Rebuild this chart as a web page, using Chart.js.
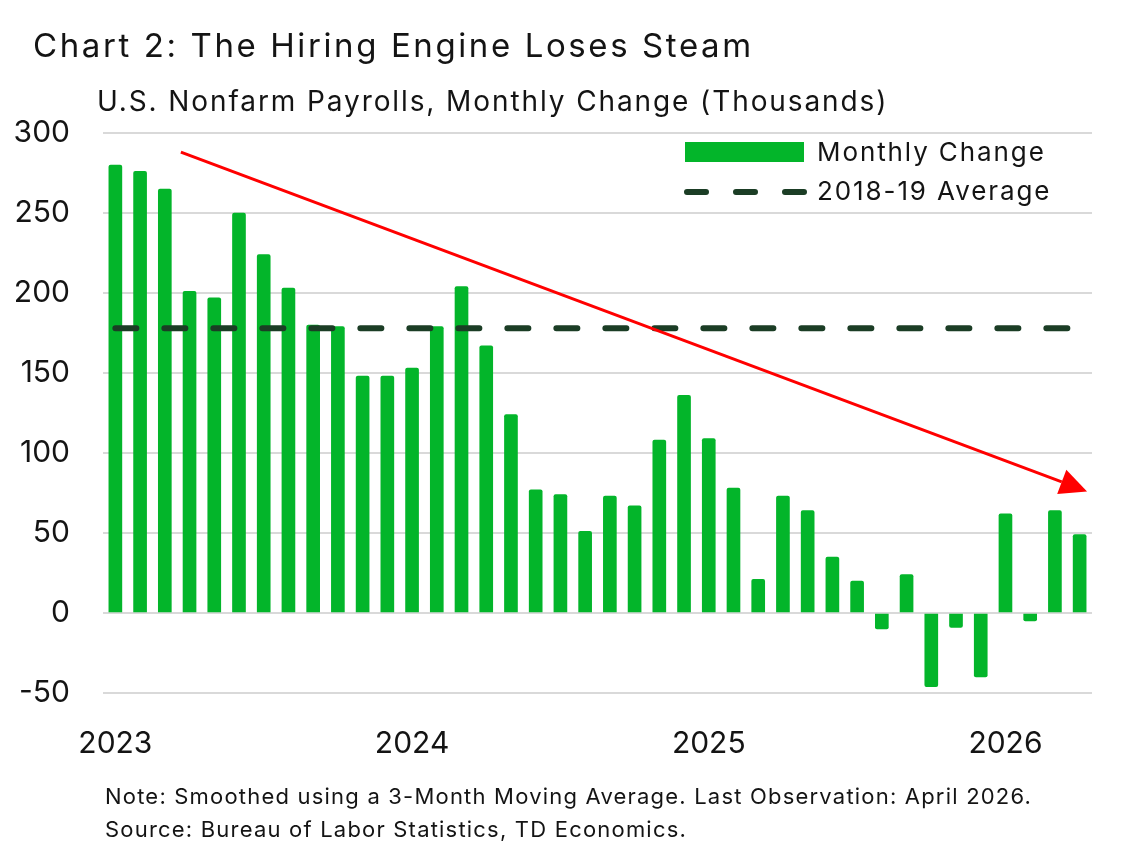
<!DOCTYPE html>
<html>
<head>
<meta charset="utf-8">
<script src="https://cdn.jsdelivr.net/npm/chart.js@4.4.1/dist/chart.umd.min.js"></script>
<style>
  html, body { margin: 0; padding: 0; background: #fff; }
  .wrap { position: relative; width: 1137px; height: 848px; font-family: Inter, sans-serif; color: #141414; }
  canvas { position: absolute; left: 0; top: 0; }
  .title { position: absolute; left: 33px; top: 25px; font-size: 33px; line-height: 40px; letter-spacing: 2.6px; white-space: nowrap; }
  .subtitle { position: absolute; left: 97px; top: 84px; font-size: 28px; line-height: 34px; letter-spacing: 1.9px; white-space: nowrap; }
  .note { position: absolute; left: 105px; top: 780px; font-size: 22px; line-height: 33px; letter-spacing: 1.2px; white-space: nowrap; }
</style>
</head>
<body>
<div class="wrap">
  <canvas id="chart" width="1137" height="848"></canvas>
  <div class="title">Chart 2: The Hiring Engine Loses Steam</div>
  <div class="subtitle">U.S. Nonfarm Payrolls, Monthly Change (Thousands)</div>
  <div class="note">Note: Smoothed using a 3-Month Moving Average. Last Observation: April 2026.<br>Source: Bureau of Labor Statistics, TD Economics.</div>
</div>
<script>
// monthly categories, Jan 2023 .. Apr 2026
const months = [
  'Jan 2023', 'Feb 2023', 'Mar 2023', 'Apr 2023', 'May 2023', 'Jun 2023', 'Jul 2023', 'Aug 2023', 'Sep 2023', 'Oct 2023', 'Nov 2023', 'Dec 2023',
  'Jan 2024', 'Feb 2024', 'Mar 2024', 'Apr 2024', 'May 2024', 'Jun 2024', 'Jul 2024', 'Aug 2024', 'Sep 2024', 'Oct 2024', 'Nov 2024', 'Dec 2024',
  'Jan 2025', 'Feb 2025', 'Mar 2025', 'Apr 2025', 'May 2025', 'Jun 2025', 'Jul 2025', 'Aug 2025', 'Sep 2025', 'Oct 2025', 'Nov 2025', 'Dec 2025',
  'Jan 2026', 'Feb 2026', 'Mar 2026', 'Apr 2026'
];
// 3-month moving average of payroll change (thousands)
const monthlyChange = [
  280, 276, 265, 201, 197, 250, 224, 203, 180, 179, 148, 148,
  153, 179, 204, 167, 124, 77, 74, 51, 73, 67, 108, 136,
  109, 78, 21, 73, 64, 35, 20, -10, 24, -46, -9, -40,
  62, -5, 64, 49
];
const avg2018_19 = 178;
const tickYears = ['2023', '2024', '2025', '2026'];
const yTicks = [-50, 0, 50, 100, 150, 200, 250, 300];
// trend arrow end points: [category position, value]
const trendStart = [2.65, 288];
const trendEnd = [39.3, 76];

const barGreen = '#03b52a';
const avgGreen = '#1b3d25';
const textColor = '#141414';

// red trend arrow drawn through the scales
const trendArrow = {
  id: 'trendArrow',
  afterDatasetsDraw(chart) {
    const xs = chart.scales.x, ys = chart.scales.y;
    const p0 = xs.getPixelForValue(0);
    const step = xs.getPixelForValue(1) - p0;
    const x0 = p0 + trendStart[0] * step, y0 = ys.getPixelForValue(trendStart[1]);
    const x1 = p0 + trendEnd[0] * step, y1 = ys.getPixelForValue(trendEnd[1]);
    const ang = Math.atan2(y1 - y0, x1 - x0);
    const headLen = 27, headW = 13;
    const bx = x1 - headLen * Math.cos(ang), by = y1 - headLen * Math.sin(ang);
    const ctx = chart.ctx;
    ctx.save();
    ctx.strokeStyle = '#ff0000';
    ctx.fillStyle = '#ff0000';
    ctx.lineWidth = 3;
    ctx.beginPath();
    ctx.moveTo(x0, y0);
    ctx.lineTo(bx, by);
    ctx.stroke();
    ctx.beginPath();
    ctx.moveTo(x1, y1);
    ctx.lineTo(bx + headW * Math.sin(ang), by - headW * Math.cos(ang));
    ctx.lineTo(bx - headW * Math.sin(ang), by + headW * Math.cos(ang));
    ctx.closePath();
    ctx.fill();
    ctx.restore();
  }
};

// legend in the top right corner of the plot
const cornerLegend = {
  id: 'cornerLegend',
  afterDraw(chart) {
    const ctx = chart.ctx;
    const ds = chart.data.datasets;
    ctx.save();
    ctx.font = '26px Inter, sans-serif';
    ctx.letterSpacing = '1.9px';
    ctx.fillStyle = textColor;
    ctx.textBaseline = 'middle';
    ctx.fillText(ds[1].label, 817, 153);
    ctx.fillText(ds[0].label, 817, 192);
    ctx.fillStyle = barGreen;
    ctx.fillRect(685, 142, 119, 20);
    ctx.strokeStyle = avgGreen;
    ctx.lineWidth = 6;
    ctx.lineCap = 'round';
    ctx.setLineDash([19, 30]);
    ctx.beginPath();
    ctx.moveTo(687, 192);
    ctx.lineTo(804, 192);
    ctx.stroke();
    ctx.restore();
  }
};

new Chart(document.getElementById('chart'), {
  data: {
    labels: months,
    datasets: [
      {
        type: 'line',
        label: '2018-19 Average',
        data: months.map(() => avg2018_19),
        borderColor: avgGreen,
        borderWidth: 6,
        borderDash: [21, 28],
        borderCapStyle: 'round',
        pointRadius: 0,
        fill: false,
        order: 0
      },
      {
        type: 'bar',
        label: 'Monthly Change',
        data: monthlyChange,
        backgroundColor: barGreen,
        barThickness: 13,
        borderRadius: 2,
        order: 1
      }
    ]
  },
  options: {
    responsive: false,
    animation: false,
    layout: { padding: { left: 0, right: 45, top: 133, bottom: 75 } },
    plugins: {
      legend: { display: false },
      tooltip: { enabled: false }
    },
    scales: {
      x: {
        type: 'category',
        grid: { display: false, drawTicks: false },
        border: { display: false },
        afterFit(scale) { scale.height = 80; },
        ticks: {
          autoSkip: false,
          maxRotation: 0,
          padding: 33,
          color: textColor,
          font: { family: 'Inter', size: 30 },
          callback: (v, i) => (i % 12 === 0 ? tickYears[i / 12] : '')
        }
      },
      y: {
        min: -50,
        max: 300,
        afterFit(scale) { scale.width = 103; },
        afterBuildTicks(scale) { scale.ticks = yTicks.map(v => ({ value: v })); },
        grid: { color: '#d9d9d9', lineWidth: 2, drawTicks: false },
        border: { display: false },
        ticks: {
          padding: 33,
          color: textColor,
          font: { family: 'Inter', size: 30 }
        }
      }
    }
  },
  plugins: [trendArrow, cornerLegend]
});
</script>
</body>
</html>
